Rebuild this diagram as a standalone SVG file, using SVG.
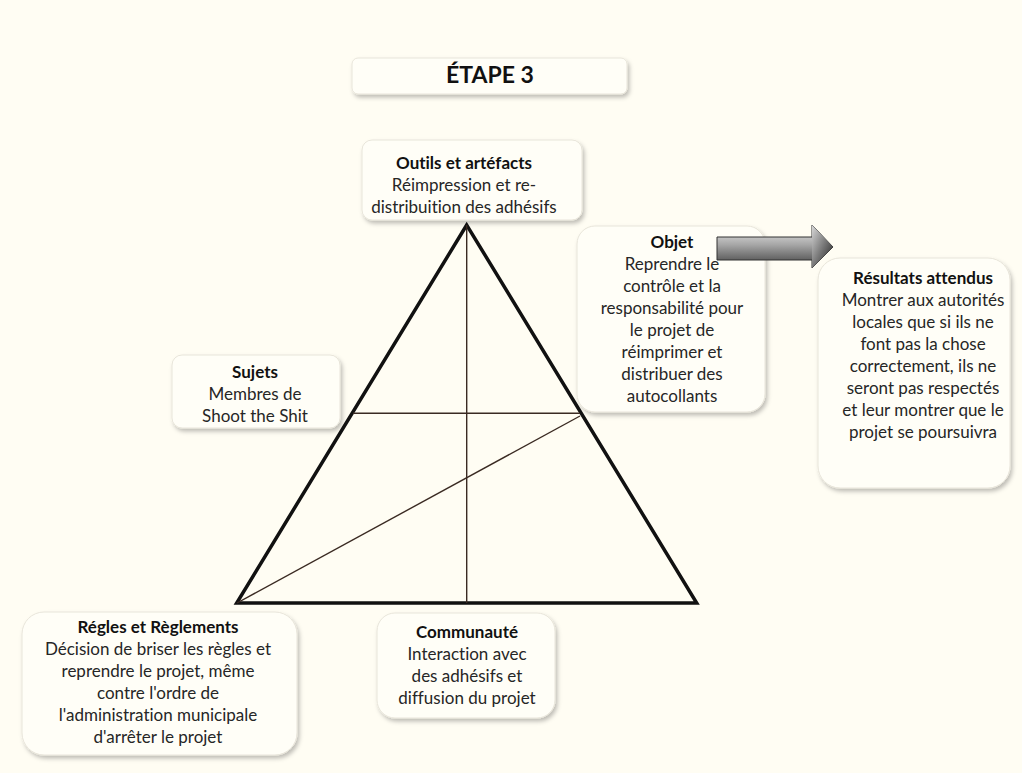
<svg xmlns="http://www.w3.org/2000/svg" width="1022" height="773" viewBox="0 0 1022 773">
<style>
.box{fill:#FFFEF7;stroke:#E8E5DA;stroke-width:1;filter:url(#sh)}
.t{font-family:Lato,"Liberation Sans",sans-serif;font-size:17px;fill:#262626;text-anchor:middle;font-variant-ligatures:none}
.b{font-weight:bold;fill:#111}
.thick{stroke:#111;stroke-width:3.5;fill:none;stroke-linejoin:miter}
.thin{stroke:#3a2a22;stroke-width:1.4;fill:none}
</style>
<defs>
<filter id="sh" x="-10%" y="-10%" width="125%" height="130%">
<feDropShadow dx="2" dy="3" stdDeviation="2" flood-color="#000" flood-opacity="0.25"/>
</filter>
<linearGradient id="ag" x1="0" y1="0" x2="0" y2="1">
<stop offset="0" stop-color="#f0f0f0"/>
<stop offset="0.45" stop-color="#a8a8a8"/>
<stop offset="1" stop-color="#3c3c3c"/>
</linearGradient>
<linearGradient id="hg" x1="0" y1="0" x2="1" y2="1">
<stop offset="0" stop-color="#d8d8d8"/>
<stop offset="0.5" stop-color="#7a7a7a"/>
<stop offset="1" stop-color="#1e1e1e"/>
</linearGradient>
</defs>
<rect width="1022" height="773" fill="#FFFDF3"/>

<g id="etape">
<rect class="box" x="352" y="58" width="275" height="36" rx="6"/>
<text x="490" y="83" style="font-family:Lato,'Liberation Sans',sans-serif;font-size:23px;font-weight:bold;fill:#111" text-anchor="middle">ÉTAPE 3</text>
</g>

<g id="connectors">
<polygon class="thick" points="466.7,225 236.7,603 696.7,603"/>
<line class="thin" x1="466.7" y1="225" x2="466.7" y2="603"/>
<line class="thin" x1="353" y1="413.3" x2="580" y2="413.3"/>
<line class="thin" stroke-width="1" x1="237" y1="603" x2="580" y2="416"/>
</g>

<g id="outils">
<rect class="box" x="362" y="140" width="220" height="80" rx="10"/>
<text class="t b" x="464" y="169">Outils et artéfacts</text>
<text class="t" x="464" y="191">Réimpression et re-</text>
<text class="t" x="464" y="213">distribuition des adhésifs</text>
</g>

<g id="objet">
<rect class="box" x="577" y="226" width="188" height="186" rx="18"/>
<text class="t b" x="672" y="248">Objet</text>
<text class="t" x="672" y="270">Reprendre le</text>
<text class="t" x="672" y="292">contrôle et la</text>
<text class="t" x="672" y="314">responsabilité pour</text>
<text class="t" x="672" y="336">le projet de</text>
<text class="t" x="672" y="358">réimprimer et</text>
<text class="t" x="672" y="380">distribuer des</text>
<text class="t" x="672" y="402">autocollants</text>
</g>

<g id="fleche">
<path d="M717,237 L812,237 L812,225 L833,247 L812,268 L812,260 L717,260 Z" fill="url(#ag)" stroke="#333" stroke-width="1"/>
<path d="M812,225 L833,247 L812,268 Z" fill="url(#hg)"/>
</g>

<g id="resultats">
<rect class="box" x="818" y="258" width="192" height="230" rx="22"/>
<text class="t b" x="923" y="284">Résultats attendus</text>
<text class="t" x="923" y="306">Montrer aux autorités</text>
<text class="t" x="923" y="328">locales que si ils ne</text>
<text class="t" x="923" y="350">font pas la chose</text>
<text class="t" x="923" y="372">correctement, ils ne</text>
<text class="t" x="923" y="394">seront pas respectés</text>
<text class="t" x="923" y="416">et leur montrer que le</text>
<text class="t" x="923" y="438">projet se poursuivra</text>
</g>

<g id="sujets">
<rect class="box" x="172" y="355" width="168" height="73" rx="10"/>
<text class="t b" x="255" y="378">Sujets</text>
<text class="t" x="255" y="400">Membres de</text>
<text class="t" x="255" y="422">Shoot the Shit</text>
</g>

<g id="regles">
<rect class="box" x="22" y="612" width="275" height="143" rx="22"/>
<text class="t b" x="158" y="633">Régles et Règlements</text>
<text class="t" x="158" y="655">Décision de briser les règles et</text>
<text class="t" x="158" y="677">reprendre le projet, même</text>
<text class="t" x="158" y="699">contre l'ordre de</text>
<text class="t" x="158" y="721">l'administration municipale</text>
<text class="t" x="158" y="743">d'arrêter le projet</text>
</g>

<g id="communaute">
<rect class="box" x="377" y="613" width="178" height="105" rx="18"/>
<text class="t b" x="467" y="638">Communauté</text>
<text class="t" x="467" y="660">Interaction avec</text>
<text class="t" x="467" y="682">des adhésifs et</text>
<text class="t" x="467" y="704">diffusion du projet</text>
</g>
</svg>
